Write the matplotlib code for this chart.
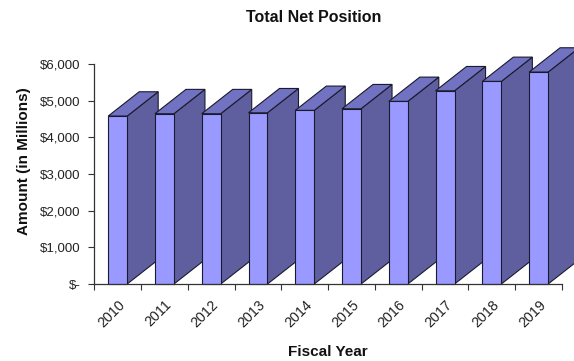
import matplotlib
matplotlib.use("Agg")
import matplotlib.pyplot as plt
from matplotlib.patches import Polygon
from matplotlib.ticker import FixedLocator, FuncFormatter

plt.rcParams['font.family'] = ['Liberation Sans', 'DejaVu Sans']

years = ["2010", "2011", "2012", "2013", "2014", "2015", "2016", "2017", "2018", "2019"]
net_position = [4580, 4645, 4645, 4670, 4735, 4780, 4980, 5270, 5525, 5780]
y_ticks = [0, 1000, 2000, 3000, 4000, 5000, 6000]

FRONT = "#9999FF"
SIDE = "#5F5FA0"
TOP = "#7272C2"
EDGE = "#1a1a2e"

W, H = 574, 361
fig = plt.figure(figsize=(W / 100, H / 100), dpi=100)
left, right, bottom, top = 94.3, 562.0, 284.0, 64.0
ax = fig.add_axes([left / W, (H - bottom) / H, (right - left) / W, (bottom - top) / H])

ax.set_xlim(-0.5, len(years) - 0.5)
ax.set_ylim(0, 6000)

bar_w = 0.406
# depth of the pseudo-3D columns, in data units
dx = 31.0 / ((right - left) / len(years))
dy = 24.3 / ((bottom - top) / 6000.0)

for i, v in enumerate(net_position):
    xl, xr = i - bar_w / 2, i + bar_w / 2
    z = 2 + i * 3
    side = Polygon([(xr, 0), (xr + dx, dy), (xr + dx, v + dy), (xr, v)],
                   closed=True, facecolor=SIDE, edgecolor=EDGE, lw=0.8,
                   clip_on=False, zorder=z)
    topf = Polygon([(xl, v), (xl + dx, v + dy), (xr + dx, v + dy), (xr, v)],
                   closed=True, facecolor=TOP, edgecolor=EDGE, lw=0.8,
                   clip_on=False, zorder=z + 1)
    ax.add_patch(side)
    ax.add_patch(topf)
    ax.bar(i, v, width=bar_w, color=FRONT, edgecolor=EDGE, lw=0.8,
           clip_on=False, zorder=z + 2)

for s in ("top", "right"):
    ax.spines[s].set_visible(False)
for s in ("left", "bottom"):
    ax.spines[s].set_color("#333333")
    ax.spines[s].set_linewidth(0.9)
    ax.spines[s].set_zorder(100)

ax.yaxis.set_major_locator(FixedLocator(y_ticks))
ax.yaxis.set_major_formatter(FuncFormatter(lambda v, p: "$-" if v == 0 else f"${v:,.0f}"))
ax.tick_params(axis="y", length=4, width=0.8, color="#333333", pad=6,
               labelsize=9.5, labelcolor="#222222")

ax.set_xticks(range(len(years)))
ax.set_xticklabels(years, rotation=45, ha="right", rotation_mode="anchor",
                   fontsize=10.3, color="#222222")
ax.tick_params(axis="x", which="major", length=0, pad=10)
ax.set_xticks([i - 0.5 for i in range(len(years) + 1)], minor=True)
ax.tick_params(axis="x", which="minor", length=4, width=0.8, color="#333333")

ax.set_ylabel("Amount (in Millions)", fontsize=11, fontweight="bold", color="#111111")
ax.yaxis.set_label_coords(-0.136, 0.557)
ax.set_xlabel("Fiscal Year", fontsize=11, fontweight="bold", color="#111111")
ax.xaxis.set_label_coords(0.5, -0.275)

fig.text(314 / W, 1 - 18 / H, "Total Net Position", ha="center", va="center",
         fontsize=11.5, fontweight="bold", color="#111111")

fig.savefig("out.png", dpi=100)
